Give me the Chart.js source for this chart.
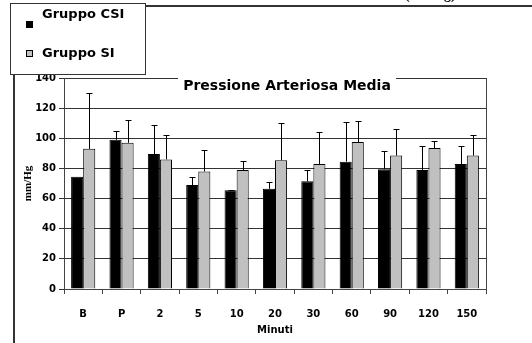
<!DOCTYPE html>
<html>
<head>
<meta charset="utf-8">
<script src="https://cdn.jsdelivr.net/npm/chart.js@4.4.1/dist/chart.umd.min.js"></script>
<style>
  html, body { margin: 0; padding: 0; background: #fff; }
  #wrap { width: 532px; height: 343px; position: relative; }
</style>
</head>
<body>
<div id="wrap"><canvas id="myChart" width="532" height="343"></canvas></div>
<script>
const labels = ['B', 'P', '2', '5', '10', '20', '30', '60', '90', '120', '150'];
const csiValues = [74.5, 99, 89.5, 69, 65.5, 66.5, 71.5, 84.5, 79.5, 79, 83];
const csiErrors = [0, 6, 19.5, 5, 0.5, 4.5, 7.5, 26, 12, 16, 12];
const siValues = [93, 97, 86, 78, 79, 85.5, 83, 97.5, 88.5, 93.5, 88.5];
const siErrors = [37, 15, 16, 14.5, 6, 24.5, 21, 14, 17.5, 5, 14];
const yTicks = [0, 20, 40, 60, 80, 100, 120, 140];

const tickFont = { family: 'DejaVu Sans', size: 10, weight: 'bold' };

const errorBars = {
  id: 'errorBars',
  afterDatasetsDraw(chart) {
    const ctx = chart.ctx;
    const y = chart.scales.y;
    const sets = [[csiValues, csiErrors], [siValues, siErrors]];
    ctx.save();
    ctx.strokeStyle = '#000';
    ctx.lineWidth = 1;
    sets.forEach(([vals, errs], di) => {
      chart.getDatasetMeta(di).data.forEach((bar, i) => {
        if (!errs[i]) return;
        const x = Math.round(bar.x) + 0.5;
        const top = Math.round(y.getPixelForValue(vals[i] + errs[i])) + 0.5;
        ctx.beginPath();
        ctx.moveTo(x, bar.y);
        ctx.lineTo(x, top);
        ctx.moveTo(x - 3, top);
        ctx.lineTo(x + 3, top);
        ctx.stroke();
      });
    });
    ctx.restore();
  }
};

const decorations = {
  id: 'decorations',
  afterDraw(chart) {
    const ctx = chart.ctx;
    const area = chart.chartArea;
    ctx.save();
    // outer frame
    ctx.strokeStyle = '#333';
    ctx.lineWidth = 2;
    ctx.beginPath();
    ctx.moveTo(14, 343);
    ctx.lineTo(14, 6);
    ctx.lineTo(532, 6);
    ctx.stroke();
    // cut-off unit text at the very top
    ctx.fillStyle = '#000';
    ctx.font = 'bold 14px "Liberation Serif"';
    ctx.textAlign = 'left';
    ctx.textBaseline = 'alphabetic';
    ctx.fillText('(mmHg)', 405, -1);
    // plot right border
    ctx.strokeStyle = '#444';
    ctx.lineWidth = 1;
    ctx.beginPath();
    ctx.moveTo(area.right + 0.5, area.top);
    ctx.lineTo(area.right + 0.5, area.bottom + 4);
    ctx.stroke();
    // title with white background
    ctx.fillStyle = '#fff';
    ctx.fillRect(178, 74, 218, 22);
    ctx.fillStyle = '#000';
    ctx.font = 'bold 14px "DejaVu Sans"';
    ctx.textAlign = 'center';
    ctx.textBaseline = 'middle';
    ctx.fillText('Pressione Arteriosa Media', 287, 86);
    // legend box
    ctx.fillStyle = '#fff';
    ctx.fillRect(10, 3, 135, 71);
    ctx.strokeStyle = '#333';
    ctx.strokeRect(10.5, 3.5, 135, 71);
    ctx.fillStyle = '#000';
    ctx.fillRect(26, 21, 7, 7);
    ctx.fillStyle = '#c0c0c0';
    ctx.fillRect(26, 50, 7, 7);
    ctx.strokeStyle = '#000';
    ctx.strokeRect(26.5, 50.5, 6, 6);
    ctx.fillStyle = '#000';
    ctx.font = 'bold 13px "DejaVu Sans"';
    ctx.textAlign = 'left';
    ctx.fillText('Gruppo CSI', 42, 15);
    ctx.fillText('Gruppo SI', 42, 54);
    ctx.restore();
  }
};

new Chart(document.getElementById('myChart'), {
  type: 'bar',
  data: {
    labels: labels,
    datasets: [{
      label: 'Gruppo CSI',
      data: csiValues,
      backgroundColor: '#000',
      borderColor: '#000',
      borderWidth: 1,
      categoryPercentage: 0.63,
      barPercentage: 1
    }, {
      label: 'Gruppo SI',
      data: siValues,
      backgroundColor: '#c0c0c0',
      borderColor: '#000',
      borderWidth: 1,
      categoryPercentage: 0.63,
      barPercentage: 1
    }]
  },
  options: {
    responsive: false,
    animation: false,
    layout: { padding: { left: 14, right: 46, top: 78, bottom: 0 } },
    plugins: {
      legend: { display: false },
      tooltip: { enabled: false }
    },
    scales: {
      x: {
        afterFit(s) { s.height = 54; },
        grid: { offset: true, drawOnChartArea: false, drawTicks: true, tickLength: 5, color: '#444' },
        border: { color: '#444', width: 1 },
        ticks: { font: tickFont, color: '#000', padding: 14 },
        title: { display: true, text: 'Minuti', font: tickFont, color: '#000', padding: { top: 0, bottom: 7 } }
      },
      y: {
        min: 0,
        max: 140,
        afterFit(s) { s.width = 50; },
        afterBuildTicks(s) { s.ticks = yTicks.map(v => ({ value: v })); },
        grid: { color: '#333', tickLength: 5 },
        border: { color: '#444', width: 1 },
        ticks: { font: tickFont, color: '#000', padding: 3 },
        title: { display: true, text: 'mm/Hg', font: { family: 'Liberation Serif', size: 11, weight: 'bold' }, color: '#000', padding: { top: 8, bottom: 0 } }
      }
    }
  },
  plugins: [errorBars, decorations]
});
</script>
</body>
</html>
